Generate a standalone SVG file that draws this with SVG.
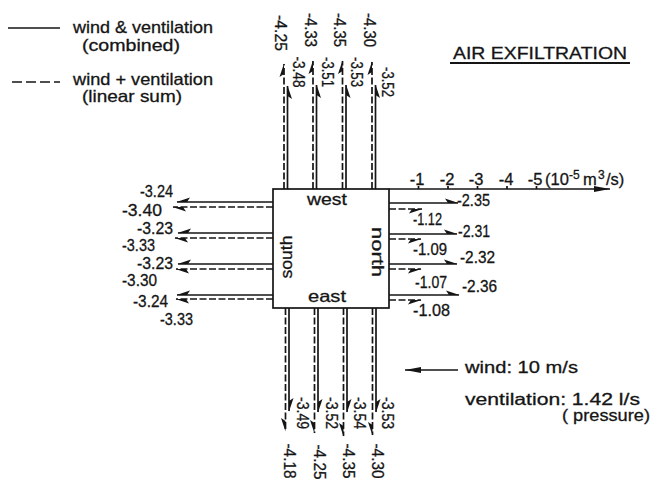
<svg xmlns="http://www.w3.org/2000/svg" width="653" height="481" viewBox="0 0 653 481">
<style>
text{font-family:"Liberation Sans",Arial,sans-serif;fill:#151515;stroke:#151515;stroke-width:0.3}
.lg{font-size:16.5px}
.n{font-size:16.5px}
.s{stroke:#151515;stroke-width:1.7;fill:none}
.d{stroke:#151515;stroke-width:1.7;fill:none;stroke-dasharray:7 2.5}
.m{text-anchor:middle}
</style>
<defs>
<marker id="hl" viewBox="0 -6 14 12" refX="13" refY="0" markerWidth="14" markerHeight="12" markerUnits="userSpaceOnUse" orient="auto"><path d="M13.5,0 L0,-4.5 L3,0 Z" fill="#151515"/></marker>
<marker id="hr" viewBox="0 -6 14 12" refX="13" refY="0" markerWidth="14" markerHeight="12" markerUnits="userSpaceOnUse" orient="auto"><path d="M13.5,0 L0,4.5 L3,0 Z" fill="#151515"/></marker>
<marker id="ah" viewBox="0 -5 16 10" refX="16" refY="0" markerWidth="16" markerHeight="10" markerUnits="userSpaceOnUse" orient="auto"><path d="M16,0 L0,-3 L0,3 Z" fill="#151515"/></marker>
</defs>
<rect width="653" height="481" fill="#fff"/>

<g id="legend">
<path class="s" d="M8,28H60"/>
<text class="lg" x="73" y="33" textLength="140" lengthAdjust="spacingAndGlyphs">wind &amp; ventilation</text>
<text class="lg" x="82" y="51" textLength="98" lengthAdjust="spacingAndGlyphs">(combined)</text>
<path class="s" stroke-dasharray="10 4" d="M12,82H60"/>
<text class="lg" x="73" y="85" textLength="140" lengthAdjust="spacingAndGlyphs">wind + ventilation</text>
<text class="lg" x="82" y="102" textLength="100" lengthAdjust="spacingAndGlyphs">(linear sum)</text>
</g>

<g id="title">
<text x="453" y="59" font-size="17" textLength="174" lengthAdjust="spacingAndGlyphs">AIR EXFILTRATION</text>
<path d="M450,63H630" stroke="#151515" stroke-width="2"/>
</g>

<g id="wind-note">
<path class="s" d="M458,370H405" marker-end="url(#ah)"/>
<text class="lg" x="465" y="373" textLength="113" lengthAdjust="spacingAndGlyphs">wind: 10 m/s</text>
<text class="lg" x="465" y="405" textLength="175" lengthAdjust="spacingAndGlyphs">ventilation: 1.42 l/s</text>
<text class="lg" x="562" y="421" textLength="88" lengthAdjust="spacingAndGlyphs">( pressure)</text>
</g>

<g id="connectors">
<!-- south (left) -->
<path class="s" d="M273,202H177" marker-end="url(#hr)"/>
<path class="d" d="M273,207H173" marker-end="url(#hl)"/>
<path class="s" d="M273,233H178" marker-end="url(#hr)"/>
<path class="d" d="M273,238H175" marker-end="url(#hl)"/>
<path class="s" d="M273,264H178" marker-end="url(#hr)"/>
<path class="d" d="M273,269H176" marker-end="url(#hl)"/>
<path class="s" d="M273,295H177" marker-end="url(#hr)"/>
<path class="d" d="M273,299H176" marker-end="url(#hl)"/>
<!-- north (right) -->
<path class="s" d="M389,203H458" marker-end="url(#hl)"/>
<path class="d" d="M389,209H422" marker-end="url(#hr)"/>
<path class="s" d="M389,234H457" marker-end="url(#hl)"/>
<path class="d" d="M389,239H421" marker-end="url(#hr)"/>
<path class="s" d="M389,264H457" marker-end="url(#hl)"/>
<path class="d" d="M389,269H421" marker-end="url(#hr)"/>
<path class="s" d="M389,295H459" marker-end="url(#hl)"/>
<path class="d" d="M389,300H421" marker-end="url(#hr)"/>
<!-- west (top) -->
<path class="d" d="M284,189V64" marker-end="url(#hl)"/>
<path class="s" d="M287.5,189V86" marker-end="url(#hr)"/>
<path class="d" d="M313,189V61" marker-end="url(#hl)"/>
<path class="s" d="M316.5,189V85" marker-end="url(#hr)"/>
<path class="d" d="M342.5,189V61" marker-end="url(#hl)"/>
<path class="s" d="M346,189V85" marker-end="url(#hr)"/>
<path class="d" d="M372,189V62" marker-end="url(#hl)"/>
<path class="s" d="M375.5,189V85" marker-end="url(#hr)"/>
<!-- east (bottom) -->
<path class="d" d="M285.5,308V431" marker-end="url(#hr)"/>
<path class="s" d="M289,308V411" marker-end="url(#hl)"/>
<path class="d" d="M314.5,308V433" marker-end="url(#hr)"/>
<path class="s" d="M318,308V412" marker-end="url(#hl)"/>
<path class="d" d="M343.5,308V436" marker-end="url(#hr)"/>
<path class="s" d="M347,308V412" marker-end="url(#hl)"/>
<path class="d" d="M372.5,308V435" marker-end="url(#hr)"/>
<path class="s" d="M376,308V412" marker-end="url(#hl)"/>
<!-- scale axis -->
<path class="s" d="M389,189H610" marker-end="url(#ah)"/>
<path class="s" d="M418.5,186V189M448,186V189M477.5,186V189M507,186V189M536.5,186V189"/>
</g>

<g id="box">
<rect x="273" y="189" width="116" height="119" fill="#fff" stroke="#151515" stroke-width="1.7"/>
<text class="lg m" x="327" y="205" textLength="40" lengthAdjust="spacingAndGlyphs">west</text>
<text class="lg m" x="327" y="302" textLength="38" lengthAdjust="spacingAndGlyphs">east</text>
<text class="lg m" transform="translate(292,257) rotate(-90)" textLength="43" lengthAdjust="spacingAndGlyphs">south</text>
<text class="lg m" transform="translate(372,252) rotate(90)" textLength="50" lengthAdjust="spacingAndGlyphs">north</text>
</g>

<g id="south-values" class="n">
<text x="140" y="197" textLength="33" lengthAdjust="spacingAndGlyphs">-3.24</text>
<text x="122" y="216" textLength="40" lengthAdjust="spacingAndGlyphs">-3.40</text>
<text x="137" y="234" textLength="36" lengthAdjust="spacingAndGlyphs">-3.23</text>
<text x="122" y="251" textLength="33" lengthAdjust="spacingAndGlyphs">-3.33</text>
<text x="137" y="269" textLength="36" lengthAdjust="spacingAndGlyphs">-3.23</text>
<text x="122" y="286" textLength="35" lengthAdjust="spacingAndGlyphs">-3.30</text>
<text x="133" y="307" textLength="35" lengthAdjust="spacingAndGlyphs">-3.24</text>
<text x="160" y="325" textLength="33" lengthAdjust="spacingAndGlyphs">-3.33</text>
</g>

<g id="north-values" class="n">
<text x="457" y="206" textLength="33" lengthAdjust="spacingAndGlyphs">-2.35</text>
<text x="413" y="225" textLength="29" lengthAdjust="spacingAndGlyphs">-1.12</text>
<text x="458" y="237" textLength="32" lengthAdjust="spacingAndGlyphs">-2.31</text>
<text x="413" y="255" textLength="34" lengthAdjust="spacingAndGlyphs">-1.09</text>
<text x="460" y="263" textLength="35" lengthAdjust="spacingAndGlyphs">-2.32</text>
<text x="415" y="288" textLength="32" lengthAdjust="spacingAndGlyphs">-1.07</text>
<text x="462" y="292" textLength="35" lengthAdjust="spacingAndGlyphs">-2.36</text>
<text x="413" y="316" textLength="37" lengthAdjust="spacingAndGlyphs">-1.08</text>
</g>

<g id="scale" class="n">
<text class="m" x="417" y="185">-1</text>
<text class="m" x="447" y="185">-2</text>
<text class="m" x="476" y="185">-3</text>
<text class="m" x="506" y="185">-4</text>
<text class="m" x="535" y="185">-5</text>
<text x="545" y="185">(10</text>
<text x="569" y="179" font-size="12">-5</text>
<text x="583" y="185">m</text>
<text x="598" y="179" font-size="12">3</text>
<text x="606" y="185">/s)</text>
</g>

<g id="west-values" class="n">
<text class="m" transform="translate(280,33) rotate(90)" y="5.5" textLength="36" lengthAdjust="spacingAndGlyphs">-4.25</text>
<text class="m" transform="translate(310,30) rotate(90)" y="5.5" textLength="34" lengthAdjust="spacingAndGlyphs">-4.33</text>
<text class="m" transform="translate(339,30) rotate(90)" y="5.5" textLength="34" lengthAdjust="spacingAndGlyphs">-4.35</text>
<text class="m" transform="translate(369,30) rotate(90)" y="5.5" textLength="34" lengthAdjust="spacingAndGlyphs">-4.30</text>
<text class="m" transform="translate(298,72) rotate(90)" y="5.5" textLength="31" lengthAdjust="spacingAndGlyphs">-3.48</text>
<text class="m" transform="translate(327,72) rotate(90)" y="5.5" textLength="30" lengthAdjust="spacingAndGlyphs">-3.51</text>
<text class="m" transform="translate(356,72) rotate(90)" y="5.5" textLength="30" lengthAdjust="spacingAndGlyphs">-3.53</text>
<text class="m" transform="translate(387,82) rotate(90)" y="5.5" textLength="30" lengthAdjust="spacingAndGlyphs">-3.52</text>
</g>

<g id="east-values" class="n">
<text class="m" transform="translate(302,413) rotate(90)" y="5.5" textLength="32" lengthAdjust="spacingAndGlyphs">-3.49</text>
<text class="m" transform="translate(331,413) rotate(90)" y="5.5" textLength="32" lengthAdjust="spacingAndGlyphs">-3.52</text>
<text class="m" transform="translate(359,413) rotate(90)" y="5.5" textLength="32" lengthAdjust="spacingAndGlyphs">-3.54</text>
<text class="m" transform="translate(387,413) rotate(90)" y="5.5" textLength="32" lengthAdjust="spacingAndGlyphs">-3.53</text>
<text class="m" transform="translate(289,461) rotate(90)" y="5.5" textLength="35" lengthAdjust="spacingAndGlyphs">-4.18</text>
<text class="m" transform="translate(319,462) rotate(90)" y="5.5" textLength="35" lengthAdjust="spacingAndGlyphs">-4.25</text>
<text class="m" transform="translate(348,461) rotate(90)" y="5.5" textLength="35" lengthAdjust="spacingAndGlyphs">-4.35</text>
<text class="m" transform="translate(377,461) rotate(90)" y="5.5" textLength="35" lengthAdjust="spacingAndGlyphs">-4.30</text>
</g>
</svg>
